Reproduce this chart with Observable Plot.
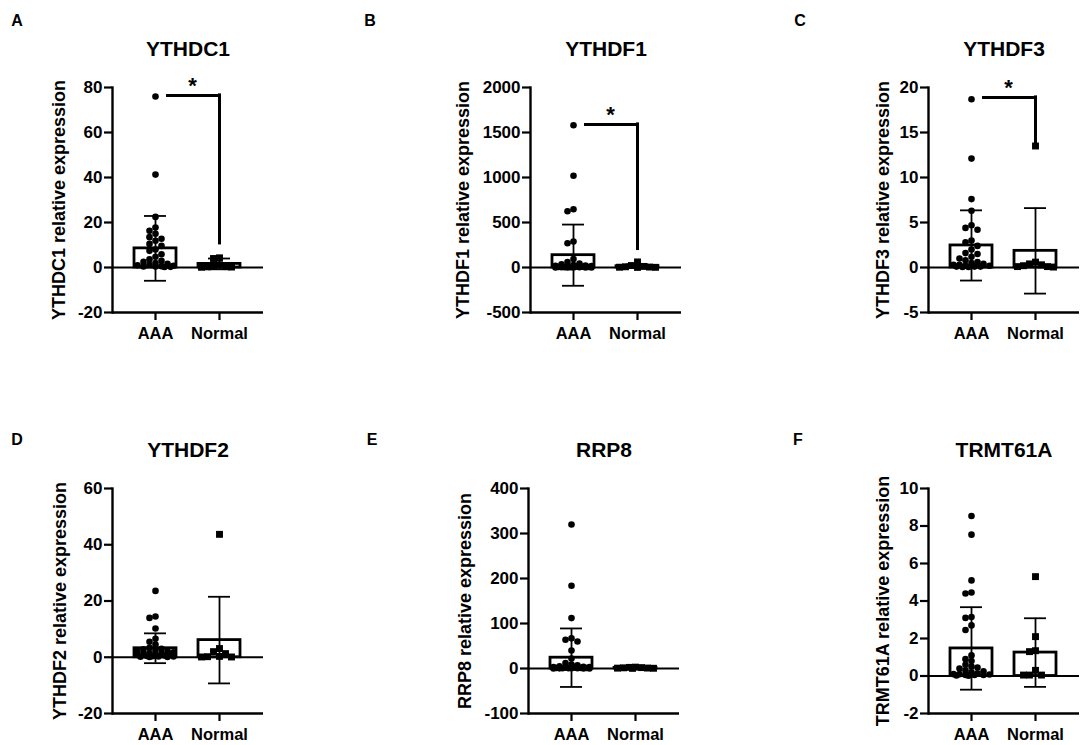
<!DOCTYPE html>
<html>
<head>
<meta charset="utf-8">
<script src="https://cdn.jsdelivr.net/npm/d3@7"></script>
<script src="https://cdn.jsdelivr.net/npm/@observablehq/plot@0.6"></script>
<style>
  body { margin: 0; background: #fff; }
  #fig { position: relative; width: 1084px; height: 745px; background: #fff; overflow: hidden;
         font-family: "Liberation Sans", Arial, sans-serif; }
  #fig svg { position: absolute; overflow: visible; }
  .letter { position: absolute; font: bold 16px "Liberation Sans", Arial, sans-serif; color: #000; transform: translate(-50%, -50%); }
</style>
</head>
<body>
<div id="fig"></div>
<script>
// ---------- data ----------
const groups = ["AAA", "Normal"];

const ythdc1Ticks = [-20, 0, 20, 40, 60, 80];
const ythdc1AAA = [76, 41.3, 22.5, 17.8, 16.3, 15, 13.5, 12.8, 11.9, 10.5, 9.6, 8, 7.4, 5.9, 4.8, 3.7, 3, 2.5, 2, 1.6, 1.2, 1, 0.8, 0.6, 0.5, 0.4, 0.3, 0.2];
const ythdc1Normal = [4.3, 4.0, 1.2, 0.6, 0.4, 0.3, 0.2, 0.1];
const ythdc1Mean = [8.5, 1.6];
const ythdc1SD = [14.4, 2.4];
const ythdc1Sig = [76.5, 10.7];

const ythdf1Ticks = [-500, 0, 500, 1000, 1500, 2000];
const ythdf1AAA = [1580, 1020, 648, 625, 289, 270, 95, 60, 45, 35, 28, 22, 18, 15, 12, 10, 8, 6, 5, 4, 3, 2, 2, 1, 1, 1, 0.5, 0.5];
const ythdf1Normal = [62, 22, 12, 8, 5, 3, 2, 1];
const ythdf1Mean = [137, 14];
const ythdf1SD = [340, 21];
const ythdf1Sig = [1590, 205];

const ythdf3Ticks = [-5, 0, 5, 10, 15, 20];
const ythdf3AAA = [18.7, 12.1, 7.6, 6.3, 4.7, 4.4, 4.2, 3.0, 2.8, 2.4, 2.0, 1.6, 1.5, 1.2, 1.0, 0.8, 0.6, 0.5, 0.4, 0.3, 0.3, 0.2, 0.2, 0.1, 0.1, 0.1, 0.05, 0.05];
const ythdf3Normal = [13.5, 0.6, 0.4, 0.3, 0.2, 0.1, 0.1, 0.05];
const ythdf3Mean = [2.45, 1.85];
const ythdf3SD = [3.9, 4.75];
const ythdf3Sig = [18.9, 13.9];

const ythdf2Ticks = [-20, 0, 20, 40, 60];
const ythdf2AAA = [23.6, 14.5, 14.0, 10.2, 6.6, 5.5, 4.5, 3.4, 3.0, 2.8, 2.5, 2.2, 2.0, 1.8, 1.5, 1.3, 1.2, 1.0, 0.9, 0.8, 0.6, 0.5, 0.4, 0.3, 0.3, 0.2, 0.1, 0.1];
const ythdf2Normal = [43.7, 3.1, 2.0, 1.3, 0.3, 0.2, 0.1, 0.1];
const ythdf2Mean = [3.2, 6.1];
const ythdf2SD = [5.3, 15.4];

const rrp8Ticks = [-100, 0, 100, 200, 300, 400];
const rrp8AAA = [320, 184, 112, 67, 64, 60, 40, 22, 12, 9, 7, 5, 4, 3, 3, 2, 2, 1.5, 1, 1, 0.8, 0.6, 0.5, 0.4, 0.3, 0.2, 0.1, 0.1];
const rrp8Normal = [3, 2.5, 2, 1.5, 1, 0.8, 0.5, 0.3];
const rrp8Mean = [24, 1.4];
const rrp8SD = [65, 1.0];

const trmt61aTicks = [-2, 0, 2, 4, 6, 8, 10];
const trmt61aAAA = [8.53, 7.54, 5.1, 4.45, 4.4, 3.15, 3.1, 2.7, 2.45, 1.1, 0.9, 0.8, 0.6, 0.5, 0.45, 0.4, 0.3, 0.25, 0.2, 0.15, 0.1, 0.1, 0.08, 0.06, 0.05, 0.05, 0.03, 0.02];
const trmt61aNormal = [5.3, 2.1, 1.35, 1.3, 0.3, 0.05, 0.05, 0.05];
const trmt61aMean = [1.47, 1.25];
const trmt61aSD = [2.2, 1.83];

const panels = [
  {letter: "A", gene: "YTHDC1", aaa: ythdc1AAA, normal: ythdc1Normal, mean: ythdc1Mean, sd: ythdc1SD, ticks: ythdc1Ticks, sig: ythdc1Sig},
  {letter: "B", gene: "YTHDF1", aaa: ythdf1AAA, normal: ythdf1Normal, mean: ythdf1Mean, sd: ythdf1SD, ticks: ythdf1Ticks, sig: ythdf1Sig},
  {letter: "C", gene: "YTHDF3", aaa: ythdf3AAA, normal: ythdf3Normal, mean: ythdf3Mean, sd: ythdf3SD, ticks: ythdf3Ticks, sig: ythdf3Sig},
  {letter: "D", gene: "YTHDF2", aaa: ythdf2AAA, normal: ythdf2Normal, mean: ythdf2Mean, sd: ythdf2SD, ticks: ythdf2Ticks, sig: null},
  {letter: "E", gene: "RRP8", aaa: rrp8AAA, normal: rrp8Normal, mean: rrp8Mean, sd: rrp8SD, ticks: rrp8Ticks, sig: null},
  {letter: "F", gene: "TRMT61A", aaa: trmt61aAAA, normal: trmt61aNormal, mean: trmt61aMean, sd: trmt61aSD, ticks: trmt61aTicks, sig: null}
];

// ---------- layout ----------
const W = 151, H = 225, ML = 90, MR = 10, MT = 60, MB = 40;
const layout = [
  {axisX: 112, top: 86.7, labelDx: -53, lx: 17, ly: 21},
  {axisX: 530, top: 86.7, labelDx: -67, lx: 370, ly: 21},
  {axisX: 928, top: 86.7, labelDx: -45, lx: 800, ly: 21},
  {axisX: 112, top: 487.7, labelDx: -52, lx: 17, ly: 440},
  {axisX: 528, top: 487.7, labelDx: -63, lx: 372, ly: 440},
  {axisX: 928, top: 487.7, labelDx: -45, lx: 798, ly: 440}
];
const FONT = "'Liberation Sans', Arial, Helvetica, sans-serif";

// deterministic scatter spreading (GraphPad-like column scatter)
function spread(values, yScale) {
  const cands = [0, -6, 6, -12, 12, -18, 18, -3, 3, -9, 9, -15, 15];
  const placed = [];
  return values.slice().sort((a, b) => b - a).map(v => {
    const py = yScale.apply(v);
    let best = 0, bestD = -1;
    for (const c of cands) {
      let d = Infinity;
      for (const q of placed) d = Math.min(d, Math.hypot(q.px - c, q.py - py));
      if (d >= 5.5) { best = c; bestD = d; break; }
      if (d > bestD) { bestD = d; best = c; }
    }
    placed.push({px: best, py});
    return {value: v, off: best};
  });
}

const fig = document.getElementById("fig");

panels.forEach((p, k) => {
  const L = layout[k];
  const lo = p.ticks[0], hi = p.ticks[p.ticks.length - 1];
  const yScale = Plot.scale({y: {domain: [lo, hi], range: [H, 0]}});
  const summary = groups.map((g, i) => ({group: g, mean: p.mean[i], sd: p.sd[i]}));

  const dotMarks = [];
  [[groups[0], p.aaa, "circle", 3.3], [groups[1], p.normal, "square", 3.9]].forEach(([g, vals, sym, r]) => {
    const pts = spread(vals, yScale);
    for (const [off, sub] of d3.groups(pts, d => d.off)) {
      dotMarks.push(Plot.dot(sub, {x: () => g, y: "value", dx: off, symbol: sym, r, fill: "#000", stroke: "none"}));
    }
  });

  const sigMarks = [];
  if (p.sig) {
    const [yb, yd] = p.sig;
    sigMarks.push(
      Plot.ruleY([yb], {x1: () => groups[0], x2: () => groups[1], insetLeft: 32, insetRight: 20, strokeWidth: 3, stroke: "#000"}),
      Plot.ruleX([groups[1]], {y1: yd, y2: yb, strokeWidth: 3, stroke: "#000", strokeLinecap: "square"}),
      Plot.text(["*"], {x: () => groups[1], y: yb, dx: -27, dy: -9, fontSize: 22, fontWeight: "bold", fill: "#000"})
    );
  }

  const svg = Plot.plot({
    width: ML + W + MR,
    height: MT + H + MB,
    marginLeft: ML, marginRight: MR, marginTop: MT, marginBottom: MB,
    style: {fontFamily: FONT, fontWeight: "bold", color: "#000", background: "transparent", overflow: "visible"},
    x: {type: "band", domain: groups, paddingInner: 0.34, paddingOuter: 0.337, align: 0.5, label: null},
    y: {domain: [lo, hi], label: null},
    marks: [
      Plot.ruleY([0], {stroke: "#000", strokeWidth: 2.2}),
      Plot.ruleY([lo], {stroke: "#000", strokeWidth: 2.4}),
      Plot.frame({anchor: "left", stroke: "#000", strokeWidth: 2.4}),
      Plot.axisY({ticks: p.ticks, tickFormat: d => String(d), tickSize: 8, tickPadding: 2, strokeWidth: 2.2, fontSize: 17, fontWeight: "bold", label: null, fill: "#000", stroke: "#000"}),
      Plot.axisX({tickSize: 8, tickPadding: 7, strokeWidth: 2.2, fontSize: 16.5, fontWeight: "bold", label: null, fill: "#000", stroke: "#000"}),
      Plot.ruleX(summary, {x: "group", y1: d => d.mean - d.sd, y2: d => d.mean + d.sd, stroke: "#000", strokeWidth: 1.8}),
      Plot.tickY(summary, {x: "group", y: d => d.mean + d.sd, insetLeft: 10, insetRight: 10, stroke: "#000", strokeWidth: 1.8}),
      Plot.tickY(summary, {x: "group", y: d => d.mean - d.sd, insetLeft: 10, insetRight: 10, stroke: "#000", strokeWidth: 1.8}),
      Plot.barY(summary, {x: "group", y: "mean", fill: "none", stroke: "#000", strokeWidth: 2.8}),
      ...dotMarks,
      ...sigMarks,
      Plot.text([p.gene], {frameAnchor: "top", lineAnchor: "middle", dy: -38, fontSize: 21, fontWeight: "bold", fill: "#000"}),
      Plot.text([p.gene + " relative expression"], {frameAnchor: "left", textAnchor: "middle", lineAnchor: "middle", rotate: -90, dx: L.labelDx, fontSize: 18, fontWeight: "bold", fill: "#000"})
    ]
  });
  svg.style.left = (L.axisX - ML) + "px";
  svg.style.top = (L.top - MT) + "px";
  fig.appendChild(svg);

  const lt = document.createElement("div");
  lt.className = "letter";
  lt.textContent = p.letter;
  lt.style.left = L.lx + "px";
  lt.style.top = L.ly + "px";
  fig.appendChild(lt);
});
</script>
</body>
</html>
